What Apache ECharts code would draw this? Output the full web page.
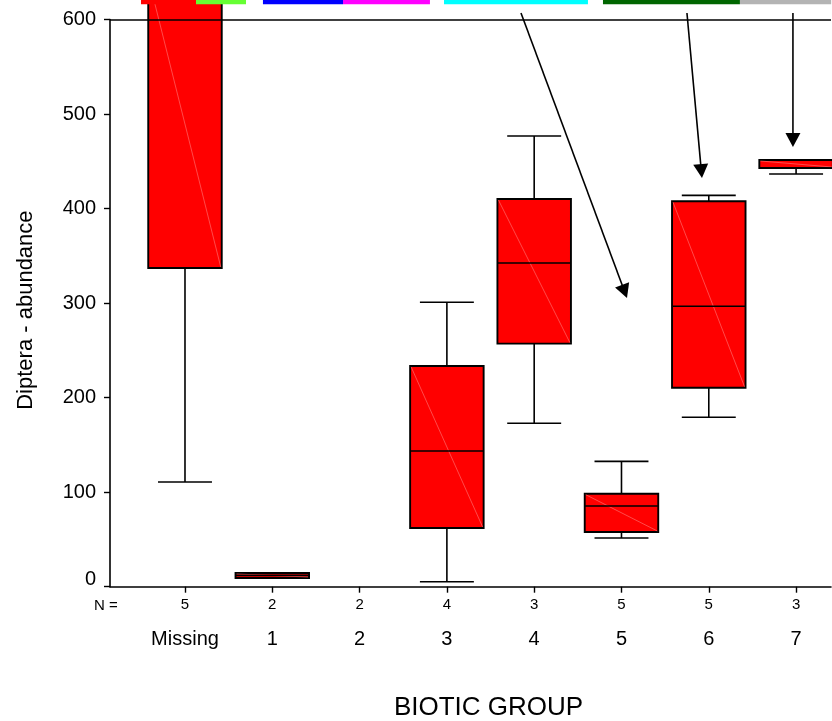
<!DOCTYPE html>
<html><head><meta charset="utf-8">
<script src="https://cdn.jsdelivr.net/npm/echarts@6/dist/echarts.min.js"></script>
<style>html,body{margin:0;padding:0;background:#fff}#c{width:832px;height:721px}</style>
</head><body><div id="c"></div>
<script>
// ---- data ----
const categories = ['Missing', '1', '2', '3', '4', '5', '6', '7'];
const groupCounts = [5, 2, 2, 4, 3, 5, 5, 3];
const whiskerLow  = [110.8, 9.2,  null, 5.3,   172.9, 51.5,  179.2, 436.6];
const quartile1   = [337.1, 9.2,  null, 62.1,  257.1, 57.9,  210.5, 442.9];
const medians     = [628,   12,   null, 143.6, 342.4, 85.4,  296.6, 442.9];
const quartile3   = [641.5, 14.5, null, 233.5, 410.1, 98.4,  407.7, 451.4];
const whiskerHigh = [700,   14.5, null, 300.9, 476.8, 132.6, 414.0, 451.4];
const yTickValues = [0, 100, 200, 300, 400, 500, 600];
const referenceLevel = 600;
// annotation arrows (data units)
const arrowFromX = [3.849, 5.750, 6.964];
const arrowFromY = [606.9, 606.9, 606.9];
const arrowToX   = [5.063, 5.922, 6.964];
const arrowToY   = [305.4, 432.3, 465.0];
// coloured strips along the top (data units)
const stripStart = [-0.504, 0.126, 0.893, 1.810, 2.967, 4.788, 6.357];
const stripEnd   = [0.126, 0.699, 1.810, 2.806, 4.616, 6.357, 7.402];
const stripLow = 616, stripHigh = 621;

// ---- styles ----
const stripColors = ['#ff0000', '#66ff33', '#0000ff', '#ff00ff', '#00ffff', '#006600', '#b4b4b4'];
const FONT = '"Liberation Sans", Arial, sans-serif';
const BOX_HALF = 0.421, CAP_HALF = 0.309;

const catIdx = categories.map((c, i) => i);
const boxData = catIdx.filter(i => quartile1[i] != null)
  .map(i => [i, whiskerLow[i], quartile1[i], medians[i], quartile3[i], whiskerHigh[i]]);
const arrowData = arrowFromX.map((v, i) => [v, arrowFromY[i], arrowToX[i], arrowToY[i]]);
const stripData = stripStart.map((v, i) => [v, stripEnd[i], i]);

const chart = echarts.init(document.getElementById('c'), null, {renderer: 'canvas'});
const blk = {stroke: '#000', lineWidth: 1.6};

chart.setOption({
  animation: false,
  backgroundColor: '#fff',
  grid: {left: 110, right: 1, top: 19.5, bottom: 134.3, containLabel: false, outerBoundsMode: 'none'},
  xAxis: {
    type: 'value', min: -0.859, max: 7.40,
    axisLine: {show: true, onZero: false, lineStyle: {color: '#000', width: 1.6}},
    axisTick: {show: true, customValues: catIdx, length: 6, lineStyle: {color: '#000', width: 1.4}},
    axisLabel: {
      customValues: catIdx, margin: 9,
      formatter: v => '{n|' + groupCounts[Math.round(v)] + '}\n{c|' + categories[Math.round(v)] + '}',
      rich: {
        n: {fontSize: 15, fontFamily: FONT, color: '#000', lineHeight: 18},
        c: {fontSize: 20, fontFamily: FONT, color: '#000', lineHeight: 52}
      }
    },
    splitLine: {show: false},
    name: 'BIOTIC GROUP', nameLocation: 'middle', nameGap: 121.5,
    nameTextStyle: {fontSize: 26, fontFamily: FONT, color: '#000', verticalAlign: 'middle', padding: [0, 0, 0, 36]}
  },
  yAxis: {
    type: 'value', min: 0, max: 600, interval: 100,
    axisLine: {show: true, onZero: false, lineStyle: {color: '#000', width: 1.6}},
    axisTick: {show: true, length: 6, lineStyle: {color: '#000', width: 1.4}},
    axisLabel: {
      margin: 14, fontSize: 20, fontFamily: FONT, color: '#000',
      formatter: v => v === 0 ? '{z|0}' : String(v),
      rich: {z: {fontSize: 20, fontFamily: FONT, color: '#000', padding: [0, 0, 14, 0]}}
    },
    splitLine: {show: false},
    name: 'Diptera - abundance', nameLocation: 'middle', nameGap: 84,
    nameTextStyle: {fontSize: 22, fontFamily: FONT, color: '#000', verticalAlign: 'middle', padding: [0, 14, 0, 0]}
  },
  graphic: [{
    type: 'text', left: 94, top: 598,
    style: {text: 'N =', fontSize: 15, fontFamily: FONT, fill: '#000'}
  }],
  series: [
    {
      type: 'line', data: [], z: 1, silent: true,
      markLine: {
        symbol: 'none', silent: true, label: {show: false},
        lineStyle: {color: '#000', width: 1.6, type: 'solid'},
        data: [{yAxis: referenceLevel}]
      }
    },
    {
      type: 'custom', z: 3, clip: false, silent: true,
      data: boxData,
      renderItem: (params, api) => {
        const x = api.value(0);
        const lo = api.value(1), q1 = api.value(2), md = api.value(3), q3 = api.value(4), hi = api.value(5);
        const tl = api.coord([x - BOX_HALF, q3]);
        const br = api.coord([x + BOX_HALF, q1]);
        const xc = api.coord([x, 0])[0];
        const cl = api.coord([x - CAP_HALF, 0])[0];
        const cr = api.coord([x + CAP_HALF, 0])[0];
        const yLo = api.coord([x, lo])[1], yHi = api.coord([x, hi])[1], yMd = api.coord([x, md])[1];
        const ln = (x1, y1, x2, y2, st) => ({type: 'line', shape: {x1, y1, x2, y2}, style: st || blk});
        return {
          type: 'group',
          children: [
            ln(xc, tl[1], xc, yHi), ln(cl, yHi, cr, yHi),
            ln(xc, br[1], xc, yLo), ln(cl, yLo, cr, yLo),
            {type: 'rect', shape: {x: tl[0], y: tl[1], width: br[0] - tl[0], height: br[1] - tl[1]},
             style: {fill: '#ff0000', stroke: '#000', lineWidth: 1.9}},
            ln(tl[0] + 1, tl[1] + 1, br[0] - 1, br[1] - 1, {stroke: 'rgba(255,150,150,0.7)', lineWidth: 0.7}),
            ln(tl[0], yMd, br[0], yMd)
          ]
        };
      }
    },
    {
      type: 'custom', z: 4, clip: false, silent: true,
      data: arrowData,
      renderItem: (params, api) => {
        const p0 = api.coord([api.value(0), api.value(1)]);
        const p1 = api.coord([api.value(2), api.value(3)]);
        const dx = p1[0] - p0[0], dy = p1[1] - p0[1];
        const L = Math.sqrt(dx * dx + dy * dy);
        const ux = dx / L, uy = dy / L, px = -uy, py = ux;
        const hl = 14, hw = 7.5;
        const bx = p1[0] - ux * hl, by = p1[1] - uy * hl;
        return {
          type: 'group',
          children: [
            {type: 'line', shape: {x1: p0[0], y1: p0[1], x2: bx + ux * 2, y2: by + uy * 2}, style: {stroke: '#000', lineWidth: 1.6}},
            {type: 'polygon', shape: {points: [[p1[0], p1[1]], [bx + px * hw, by + py * hw], [bx - px * hw, by - py * hw]]},
             style: {fill: '#000'}}
          ]
        };
      }
    },
    {
      type: 'custom', z: 5, clip: false, silent: true,
      data: stripData,
      renderItem: (params, api) => {
        const a = api.coord([api.value(0), stripHigh]);
        const b = api.coord([api.value(1), stripLow]);
        return {type: 'rect', shape: {x: a[0], y: a[1], width: b[0] - a[0], height: b[1] - a[1]},
                style: {fill: stripColors[api.value(2)]}};
      }
    }
  ]
});
</script></body></html>
